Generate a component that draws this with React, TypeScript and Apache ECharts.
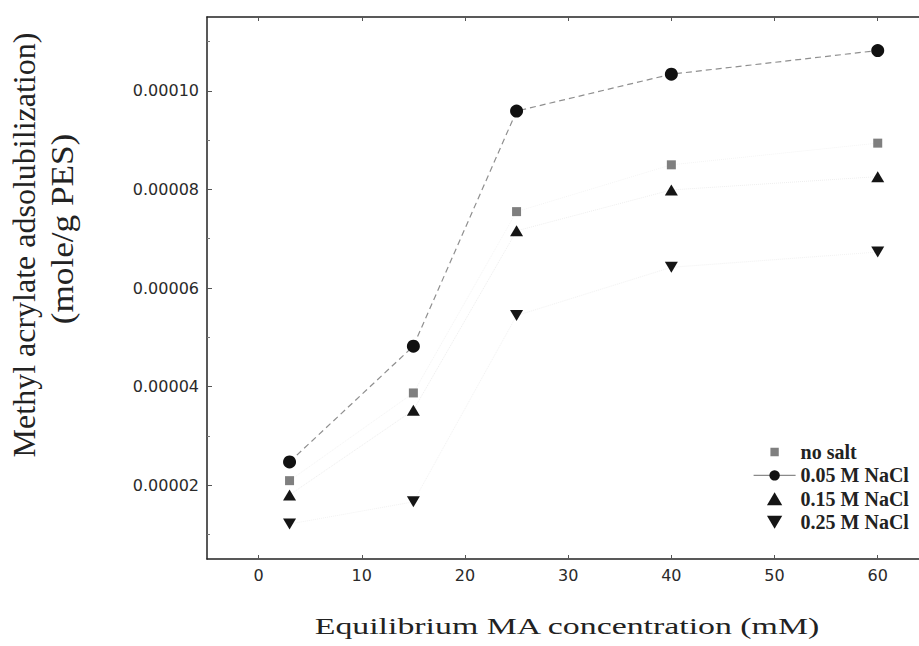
import React, { useEffect, useRef } from "react";
import * as echarts from "echarts";

// Equilibrium MA concentration (mM)
const X_VALUES = [3, 15, 25, 40, 60];
// Methyl acrylate adsolubilization (mole/g PES)
const NO_SALT = [0.0000209, 0.0000387, 0.0000755, 0.000085, 0.0000894];
const NACL_005 = [0.0000247, 0.0000482, 0.0000959, 0.0001034, 0.0001082];
const NACL_015 = [0.000018, 0.0000352, 0.0000716, 0.0000799, 0.0000826];
const NACL_025 = [0.0000121, 0.0000166, 0.0000544, 0.0000642, 0.0000673];

const SERIES_NAMES = ["no salt", "0.05 M NaCl", "0.15 M NaCl", "0.25 M NaCl"];
const X_TICKS = [0, 10, 20, 30, 40, 50, 60];
const Y_TICKS = [0.00002, 0.00004, 0.00006, 0.00008, 0.0001];
const Y_MINOR_TICKS = [0.00001, 0.00003, 0.00005, 0.00007, 0.00009, 0.00011];

const X_TITLE = "Equilibrium MA concentration (mM)";
const Y_TITLE_1 = "Methyl acrylate adsolubilization)";
const Y_TITLE_2 = "(mole/g PES)";

const pairs = (ys: number[]) => X_VALUES.map((x, i) => [x, ys[i]]);

const UP_TRI = "path://M5,0L10,8.5L0,8.5Z";
const DOWN_TRI = "path://M0,0L10,0L5,8.5Z";
const SMALL_SQUARE = "path://M0,0h0.02v0.02h-0.02zM2.5,2.5h9v9h-9zM14,14h0.02v0.02h-0.02z";

export default function App() {
  const ref = useRef<HTMLDivElement>(null);
  useEffect(() => {
    if (!ref.current) return;
    const chart = echarts.init(ref.current, undefined, { renderer: "svg" });
    const labelFont = { fontFamily: "DejaVu Sans", fontSize: 16, color: "#2a2a2a" };
    chart.setOption({
      animation: false,
      backgroundColor: "#ffffff",
      grid: { left: 207, top: 17, right: 0, bottom: 87, containLabel: false },
      xAxis: [
        {
          type: "value",
          min: -5,
          max: 64,
          position: "bottom",
          axisLine: { show: true, onZero: false, lineStyle: { color: "#222", width: 1.5 } },
          axisTick: { show: true, inside: true, length: 4, customValues: X_TICKS, lineStyle: { color: "#555" } },
          axisLabel: { ...labelFont, margin: 8, customValues: X_TICKS },
          splitLine: { show: false },
        },
        {
          type: "value",
          min: -5,
          max: 64,
          position: "top",
          axisLine: { show: true, onZero: false, lineStyle: { color: "#222", width: 1.5 } },
          axisTick: { show: true, inside: true, length: 4, customValues: X_TICKS, lineStyle: { color: "#555" } },
          axisLabel: { show: false },
          splitLine: { show: false },
        },
      ],
      yAxis: [
        {
          type: "value",
          min: 0.000005,
          max: 0.000115,
          position: "left",
          axisLine: { show: true, onZero: false, lineStyle: { color: "#222", width: 1.5 } },
          axisTick: { show: true, inside: true, length: 5, customValues: Y_TICKS, lineStyle: { color: "#555" } },
          axisLabel: {
            ...labelFont,
            margin: 8,
            customValues: Y_TICKS,
            formatter: (v: number) => v.toFixed(5),
          },
          splitLine: { show: false },
        },
        {
          type: "value",
          min: 0.000005,
          max: 0.000115,
          position: "left",
          axisLine: { show: false, onZero: false },
          axisTick: { show: true, inside: true, length: 3, customValues: Y_MINOR_TICKS, lineStyle: { color: "#777" } },
          axisLabel: { show: false },
          splitLine: { show: false },
        },
      ],
      legend: {
        orient: "vertical",
        left: 748,
        top: 437,
        itemWidth: 42,
        itemHeight: 13,
        itemGap: 3.4,
        selectedMode: false,
        symbolKeepAspect: true,
        textStyle: {
          fontFamily: "Liberation Serif",
          fontWeight: "bold",
          fontSize: 20,
          lineHeight: 20,
          color: "#222",
        },
        data: [
          { name: SERIES_NAMES[0], icon: SMALL_SQUARE },
          { name: SERIES_NAMES[1], lineStyle: { type: "solid", color: "#8a8a8a", width: 1.2 } },
          { name: SERIES_NAMES[2], icon: UP_TRI },
          { name: SERIES_NAMES[3], icon: DOWN_TRI },
        ],
      },
      series: [
        {
          name: SERIES_NAMES[0],
          type: "line",
          data: pairs(NO_SALT),
          symbol: "rect",
          symbolSize: 9,
          itemStyle: { color: "#7f7f7f" },
          lineStyle: { color: "#f4f4f4", width: 1, type: "dotted" },
          z: 3,
        },
        {
          name: SERIES_NAMES[1],
          type: "line",
          data: pairs(NACL_005),
          symbol: "circle",
          symbolSize: 13,
          itemStyle: { color: "#111" },
          lineStyle: { color: "#8f8f8f", width: 1.2, type: [6, 4] },
          z: 4,
        },
        {
          name: SERIES_NAMES[2],
          type: "line",
          data: pairs(NACL_015),
          symbol: UP_TRI,
          symbolSize: [13, 11],
          itemStyle: { color: "#151515" },
          lineStyle: { color: "#eeeeee", width: 1, type: "dotted" },
          z: 3,
        },
        {
          name: SERIES_NAMES[3],
          type: "line",
          data: pairs(NACL_025),
          symbol: DOWN_TRI,
          symbolSize: [13, 11],
          itemStyle: { color: "#151515" },
          lineStyle: { color: "#f2f2f2", width: 1, type: "dotted" },
          z: 3,
        },
      ],
      graphic: [
        {
          type: "text",
          x: 567,
          y: 626,
          scaleX: 1.41,
          style: {
            text: X_TITLE,
            fontFamily: "Liberation Serif",
            fontSize: 24,
            align: "center",
            verticalAlign: "middle",
            fill: "#222",
          },
        },
        {
          type: "text",
          x: 24,
          y: 245,
          rotation: Math.PI / 2,
          style: {
            text: Y_TITLE_1,
            fontFamily: "Liberation Serif",
            fontSize: 32,
            align: "center",
            verticalAlign: "middle",
            fill: "#222",
          },
        },
        {
          type: "text",
          x: 62,
          y: 229,
          rotation: Math.PI / 2,
          scaleX: 1.1,
          style: {
            text: Y_TITLE_2,
            fontFamily: "Liberation Serif",
            fontSize: 32,
            align: "center",
            verticalAlign: "middle",
            fill: "#222",
          },
        },
      ],
    });
    return () => chart.dispose();
  }, []);
  return (
    <div
      ref={ref}
      style={{ position: "fixed", left: 0, top: 0, width: 919, height: 646, background: "#fff" }}
    />
  );
}
